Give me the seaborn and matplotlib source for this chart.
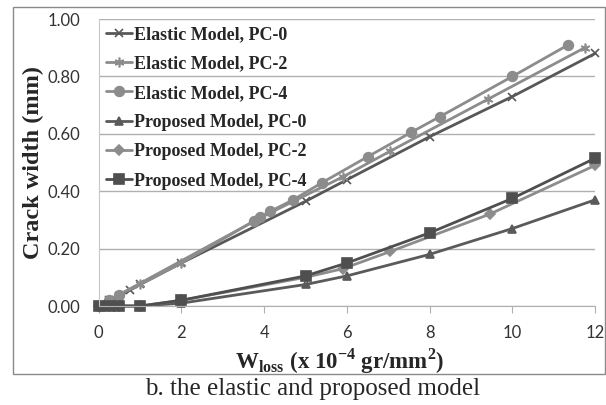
import pandas as pd
import seaborn as sns
import matplotlib.pyplot as plt
from matplotlib.patches import Rectangle

# values
el_pc0_x = [0, 0.25, 0.5, 0.75, 1, 2, 5, 6, 8, 10, 12]
el_pc0_y = [0, 0.02, 0.035, 0.055, 0.075, 0.15, 0.365, 0.44, 0.59, 0.73, 0.88]

el_pc2_x = [0, 0.25, 0.5, 1, 2, 3.8, 5.9, 7.05, 9.4, 11.75]
el_pc2_y = [0, 0.02, 0.04, 0.075, 0.15, 0.30, 0.45, 0.54, 0.72, 0.90]

el_pc4_x = [0, 0.25, 0.5, 3.75, 3.9, 4.15, 4.7, 5.4, 6.5, 7.55, 8.25, 10, 11.35]
el_pc4_y = [0, 0.02, 0.04, 0.295, 0.31, 0.33, 0.37, 0.43, 0.52, 0.605, 0.66, 0.80, 0.91]

pr_pc0_x = [0, 0.25, 0.5, 1, 2, 5, 6, 8, 10, 12]
pr_pc0_y = [0, 0, 0, 0, 0.01, 0.075, 0.105, 0.18, 0.27, 0.37]

pr_pc2_x = [0, 0.25, 0.5, 1, 2, 5, 5.9, 7.05, 9.45, 12]
pr_pc2_y = [0, 0, 0, 0, 0.02, 0.10, 0.13, 0.19, 0.32, 0.49]

pr_pc4_x = [0, 0.25, 0.5, 1, 2, 5, 6, 8, 10, 12]
pr_pc4_y = [0, 0, 0, 0, 0.02, 0.105, 0.15, 0.255, 0.375, 0.515]

series = [
    ('Elastic Model, PC-0', el_pc0_x, el_pc0_y, '#585858', 'x', 6),
    ('Elastic Model, PC-2', el_pc2_x, el_pc2_y, '#8c8c8c', (6, 2, 0), 7),
    ('Elastic Model, PC-4', el_pc4_x, el_pc4_y, '#8c8c8c', 'o', 7),
    ('Proposed Model, PC-0', pr_pc0_x, pr_pc0_y, '#5a5a5a', '^', 6),
    ('Proposed Model, PC-2', pr_pc2_x, pr_pc2_y, '#8c8c8c', 'D', 5),
    ('Proposed Model, PC-4', pr_pc4_x, pr_pc4_y, '#4f4f4f', 's', 7),
]

sns.set_style('white')
plt.rcParams['mathtext.fontset'] = 'custom'
plt.rcParams['mathtext.rm'] = 'Liberation Serif:bold'
plt.rcParams['mathtext.bf'] = 'Liberation Serif:bold'

fig = plt.figure(figsize=(6.06, 4.05), dpi=100)
ax = fig.add_axes([0.163, 0.2444, 0.819, 0.7086])

for name, xs, ys, col, mk, ms in series:
    d = pd.DataFrame({'x': xs, 'y': ys})
    sns.lineplot(data=d, x='x', y='y', ax=ax, color=col, marker=mk, markersize=ms,
                 markeredgecolor=col, markerfacecolor=col, markeredgewidth=1.2,
                 linewidth=2, label=name, sort=False, clip_on=False)

ax.set_xlim(0, 12)
ax.set_ylim(0, 1.0)
ax.set_xticks(range(0, 13, 2))
ax.set_yticks([0, 0.2, 0.4, 0.6, 0.8, 1.0])
ax.set_yticklabels([f'{v:.2f}' for v in [0, 0.2, 0.4, 0.6, 0.8, 1.0]])
ax.yaxis.grid(True, color='#b0b0b0', linewidth=1)
ax.set_axisbelow(True)
for s in ['top', 'right']:
    ax.spines[s].set_visible(False)
ax.spines['left'].set_color('#c8c8c8')
ax.spines['bottom'].set_color('#b0b0b0')
ax.tick_params(axis='x', bottom=True, length=5, color='#b0b0b0', labelsize=12,
               labelcolor='#333333', pad=9)
ax.tick_params(axis='y', left=False, labelsize=12, labelcolor='#333333', pad=10)
for lab in ax.get_xticklabels() + ax.get_yticklabels():
    lab.set_family('Lato')

ax.set_xlabel(r'W$_{\mathbf{loss}}$ (x 10$^{\mathbf{-4}}$ gr/mm$^{\mathbf{2}}$)',
              family='Liberation Serif', fontweight='bold', fontsize=16.5)
ax.xaxis.set_label_coords(0.486, -0.14)
ax.set_ylabel('Crack width (mm)', family='Liberation Serif', fontweight='bold',
              fontsize=17.5)
ax.yaxis.set_label_coords(-0.11, 0.5)

leg = ax.legend(loc='upper left', frameon=False, handlelength=1.45, handletextpad=0.08,
                labelspacing=0.68, borderaxespad=0, borderpad=0.4,
                bbox_to_anchor=(0.0, 1.0),
                prop={'family': 'Liberation Serif', 'weight': 'bold', 'size': 13})

fig.patches.append(Rectangle((13 / 606, 1 - 374 / 405), 592 / 606, 367 / 405,
                             transform=fig.transFigure, fill=False,
                             edgecolor='#8a8a8a', linewidth=1))
fig.text(0.516, 1 - 389 / 405, 'b. the elastic and proposed model',
         family='Liberation Serif', fontsize=18, ha='center', va='center')

fig.savefig('out.png', dpi=100)
